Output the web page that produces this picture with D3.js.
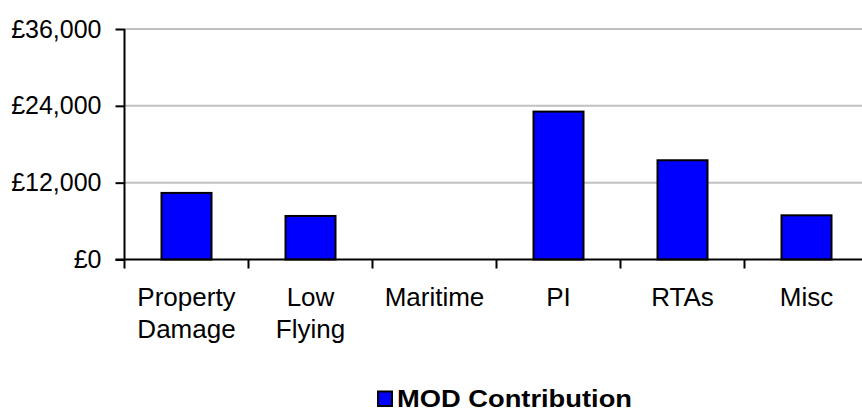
<!DOCTYPE html>
<html><head><meta charset="utf-8">
<script src="https://cdn.jsdelivr.net/npm/d3@7"></script>
<style>html,body{margin:0;padding:0;background:#fff;overflow:hidden}svg{display:block}</style>
</head><body><svg id="chart" width="862" height="410"></svg>
<script>
const categories = [["Property","Damage"],["Low","Flying"],["Maritime"],["PI"],["RTAs"],["Misc"]];
const categoryKeys = ["Property Damage","Low Flying","Maritime","PI","RTAs","Misc"];
const values = [10400, 6800, 0, 23100, 15500, 6900];
const yTicks = [0, 12000, 24000, 36000];
const seriesName = "MOD Contribution";

(function(){
const svg = d3.select("#chart");
const font = "Liberation Sans, Arial, sans-serif";
const pL = 124.5, pR = 868.5, pT = 29, pB = 259.5;

const x = d3.scaleBand().domain(categoryKeys).range([pL, pR]).paddingInner(0).paddingOuter(0);
const y = d3.scaleLinear().domain([0, 36000]).range([pB, pT]);

// gridlines
svg.append("g").selectAll("line").data(yTicks.filter(d=>d>0)).join("line")
  .attr("x1", pL).attr("x2", pR)
  .attr("y1", d=>y(d)).attr("y2", d=>y(d))
  .attr("stroke", "#c0c0c0").attr("stroke-width", 2);

// bars
const bw = 50;
svg.append("g").selectAll("rect").data(values.map((v,i)=>({k:categoryKeys[i],v}))).join("rect")
  .attr("x", d=>x(d.k)+x.bandwidth()/2-bw/2)
  .attr("width", bw)
  .attr("y", d=>y(d.v))
  .attr("height", d=>y(0)-y(d.v))
  .attr("fill", "#0000ff")
  .attr("stroke", d=>d.v>0?"#000":"none").attr("stroke-width", 2);

// y axis
const yAxis = d3.axisLeft(y).tickValues(yTicks).tickSize(9).tickPadding(14)
  .tickFormat(d=>"£"+d3.format(",")(d));
const gy = svg.append("g").attr("transform", `translate(${pL},0)`).call(yAxis);
gy.select(".domain").attr("stroke","#000").attr("stroke-width",2).attr("d", `M0,${pT}V${pB}`);
gy.selectAll(".tick line").attr("stroke","#000").attr("stroke-width",2);
gy.selectAll(".tick text").attr("font-family", font).attr("font-size", 25).attr("fill","#000");

// x axis
const xAxis = d3.axisBottom(x).tickSize(0).tickFormat("");
const gx = svg.append("g").attr("transform", `translate(0,${pB})`).call(xAxis);
gx.select(".domain").attr("stroke","#000").attr("stroke-width",2).attr("d", `M${pL-9},0H${pR}`);
gx.selectAll(".tick").remove();
const bounds = categoryKeys.map(k=>x(k)).concat([x(categoryKeys[categoryKeys.length-1])+x.bandwidth()]);
gx.append("g").selectAll("line").data(bounds).join("line")
  .attr("x1", d=>d).attr("x2", d=>d).attr("y1", 0).attr("y2", 9)
  .attr("stroke","#000").attr("stroke-width",2);

// category labels
const lab = svg.append("g").selectAll("text").data(categories.map((c,i)=>({c,k:categoryKeys[i]}))).join("text")
  .attr("font-family", font).attr("font-size", 26).attr("fill", "#000")
  .attr("text-anchor","middle");
lab.each(function(d){
  const t = d3.select(this);
  d.c.forEach((line, j)=>{
    t.append("tspan").attr("x", x(d.k)+x.bandwidth()/2).attr("y", 306 + j*32).text(line);
  });
});

// legend
const lg = svg.append("g");
lg.append("rect").attr("x", 378).attr("y", 391.5).attr("width", 14).attr("height", 14.5)
  .attr("fill","#0000ff").attr("stroke","#000").attr("stroke-width",2);
lg.append("text").attr("x", 397).attr("y", 406.5).attr("font-family", font).attr("font-size", 24)
  .attr("textLength", 235).attr("lengthAdjust", "spacingAndGlyphs")
  .attr("font-weight","bold").attr("fill","#000").text(seriesName);
})();
</script></body></html>
